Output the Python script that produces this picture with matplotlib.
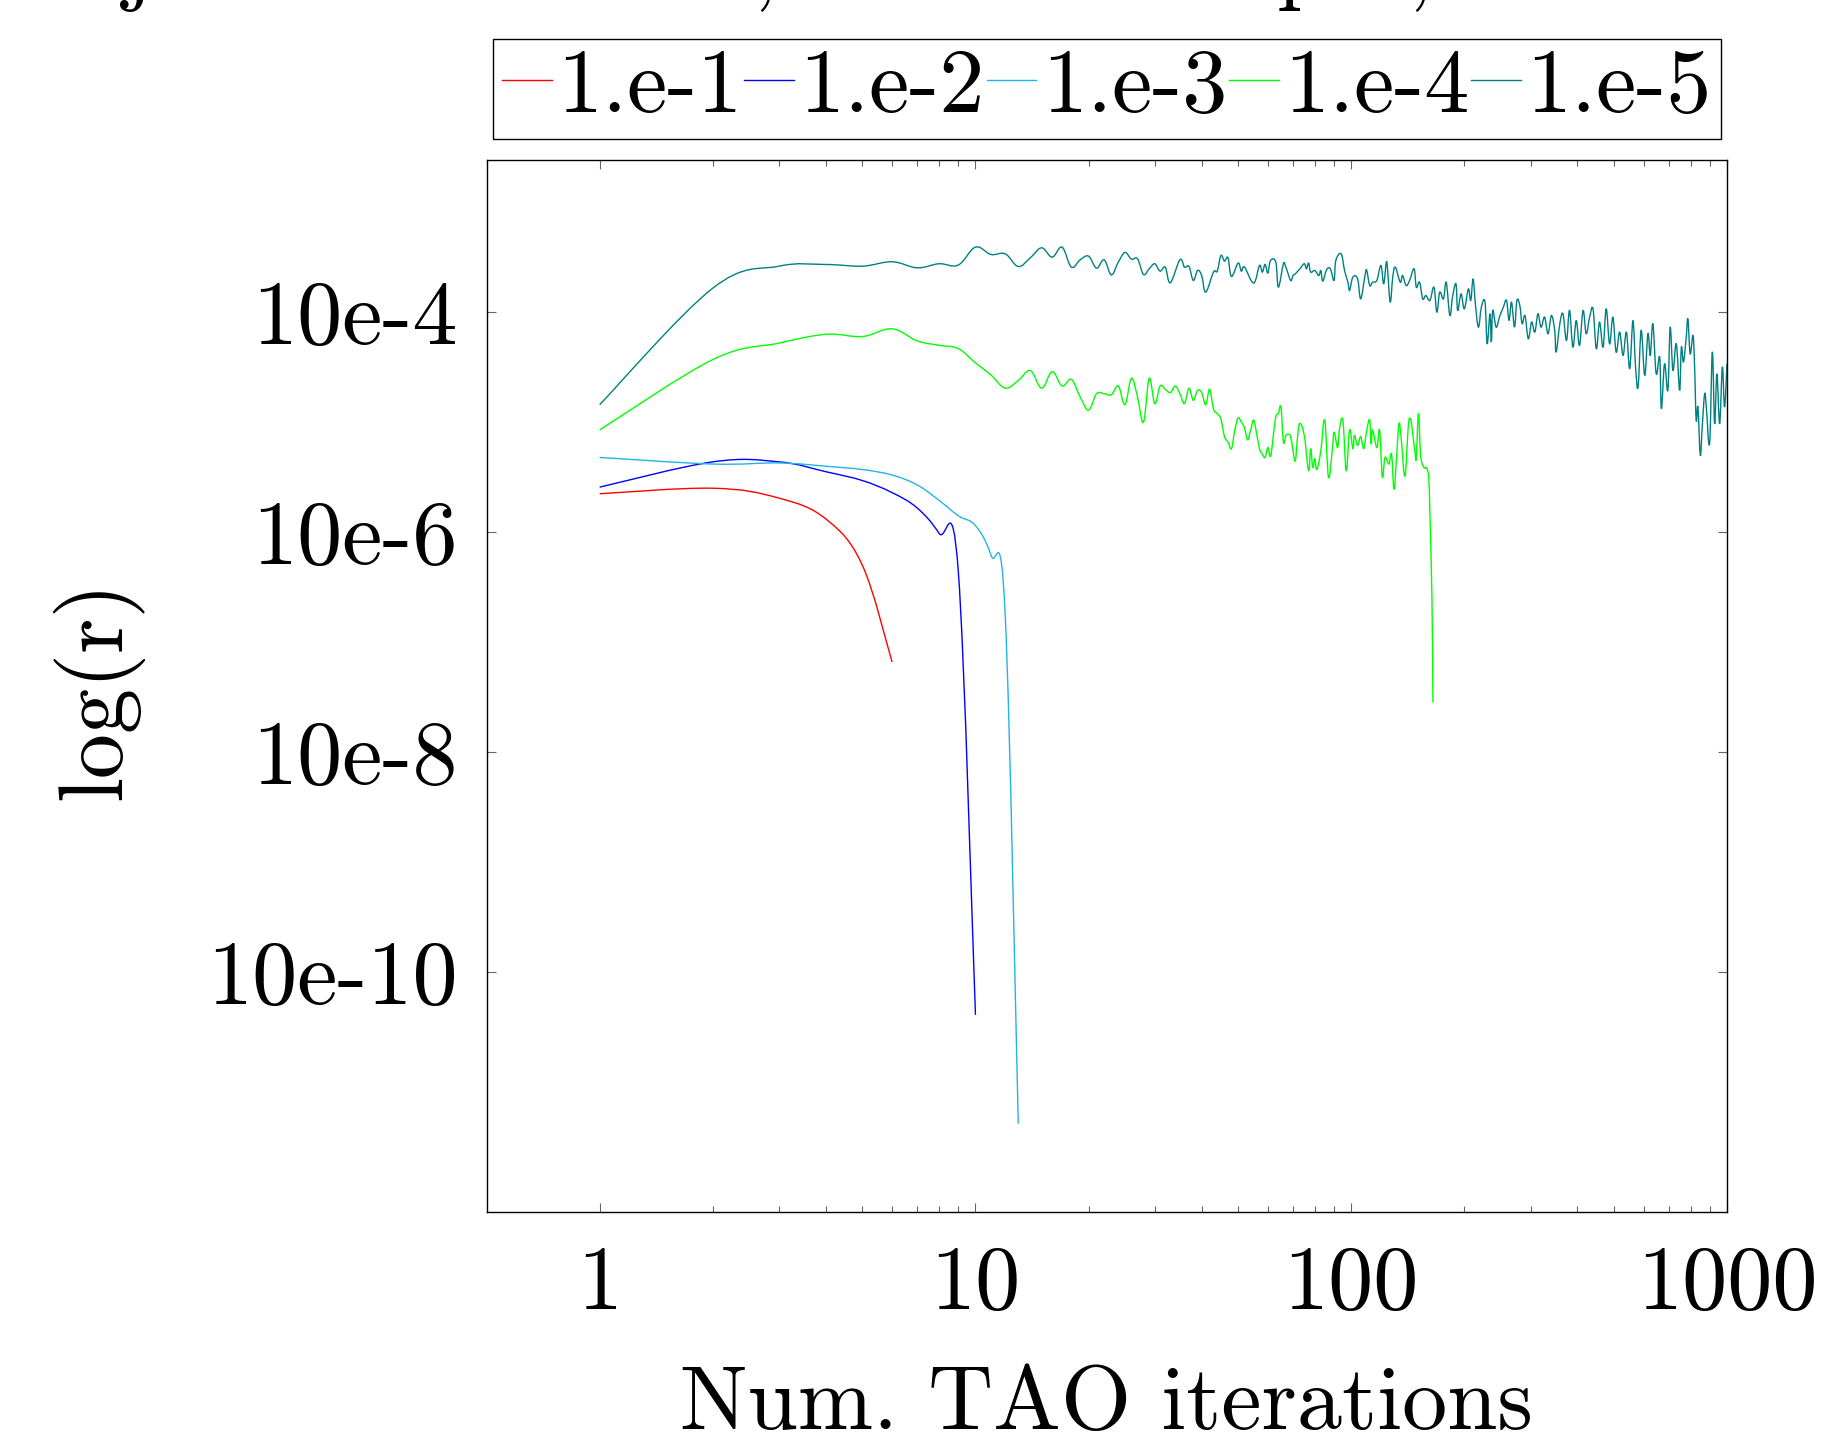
import numpy as np
import matplotlib
matplotlib.use('Agg')
import matplotlib.pyplot as plt
from matplotlib.path import Path
from matplotlib.patches import PathPatch
from matplotlib.lines import Line2D
from matplotlib.ticker import FixedLocator, NullFormatter, NullLocator

# residual values (log10 of r), per TAO iteration
red_iter = [1, 2, 3, 4, 5, 6]
red_log = [-5.65, -5.60, -5.69, -5.88, -6.30, -7.18]

blue_iter = [1, 2, 3, 4, 5, 6, 7, 8, 9, 10]
blue_log = [-5.59, -5.36, -5.36, -5.45, -5.53, -5.64, -5.78, -6.01, -6.35, -10.39]

cyan_iter = [1, 2, 3, 4, 5, 6, 7, 8, 9, 10, 11, 12, 13]
cyan_log = [-5.32, -5.38, -5.37, -5.40, -5.43, -5.48, -5.57, -5.71, -5.85, -5.94,
            -6.21, -6.75, -11.38]

green_iter = [1, 2, 3, 4, 5, 6, 7, 8, 9, 10, 11, 12, 13, 14, 15, 16, 17, 18, 19, 20,
              21, 22, 23, 24, 25, 26, 27, 28, 29, 30, 31, 32, 33, 34, 35, 36, 37, 38, 39, 40,
              41, 42, 43, 44, 45, 46, 47, 48, 49, 50, 51, 52, 53, 54, 55, 56, 57, 58, 59, 60,
              61, 62, 63, 64, 65, 66, 67, 68, 69, 70, 71, 72, 73, 75, 77, 78, 79, 80, 81, 83,
              85, 87, 89, 90, 92, 93, 95, 97, 99, 101, 102, 104, 106, 108, 110, 112, 113, 114,
              117, 119, 121, 123, 126, 128, 130, 132, 134, 136, 139, 142, 144, 146, 148, 149,
              151, 153, 156, 158, 160, 161, 162, 164, 165]
green_log = [-5.07, -4.43, -4.28, -4.20, -4.22, -4.15, -4.26, -4.30, -4.33, -4.46,
             -4.57, -4.69, -4.62, -4.53, -4.69, -4.54, -4.67, -4.61, -4.77, -4.89,
             -4.74, -4.74, -4.75, -4.67, -4.84, -4.60, -4.77, -5.00, -4.60, -4.83,
             -4.67, -4.70, -4.73, -4.67, -4.74, -4.83, -4.69, -4.80, -4.71, -4.73,
             -4.84, -4.70, -4.88, -4.92, -4.97, -5.13, -5.18, -5.24, -5.07, -4.96,
             -5.00, -5.05, -5.16, -5.07, -4.98, -5.10, -5.24, -5.29, -5.32, -5.23,
             -5.31, -5.13, -4.95, -4.92, -4.86, -5.18, -5.12, -5.11, -5.13, -5.26,
             -5.35, -5.13, -5.01, -5.12, -5.44, -5.24, -5.41, -5.33, -5.43, -5.26,
             -4.98, -5.50, -5.26, -5.09, -5.23, -5.07, -4.98, -5.44, -5.07, -5.24,
             -5.12, -5.21, -5.13, -5.24, -5.07, -4.98, -5.20, -5.07,
             -5.23, -5.07, -5.50, -5.32, -5.38, -5.29, -5.61, -5.32, -5.01, -5.17,
             -5.49, -5.02, -4.98, -5.12, -5.29, -5.32,
             -4.92, -5.30, -5.41, -5.41, -5.45, -5.53, -5.85, -6.60, -7.55]

teal_iter = [1, 2, 3, 4, 5, 6, 7, 8, 9, 10, 11, 12, 13, 14, 15, 16, 17, 18, 19, 20,
             21, 22, 23, 24, 25, 26, 27, 28, 29, 30, 31, 32, 33, 35, 36, 37, 38, 39, 40, 41,
             43, 44, 45, 46, 47, 48, 50, 51, 52, 55, 57, 58, 59, 60, 61, 63, 64, 66, 67, 69,
             70, 71, 73, 75, 76, 77, 78, 80, 82, 83, 84, 86, 88, 90, 91, 94, 96, 98, 99, 101,
             104, 106, 109, 110, 112, 114, 117, 120, 122, 124, 125, 127, 129, 131, 135, 137,
             140, 143, 147, 149, 152, 155, 158, 162, 166, 169, 172, 176, 179, 183, 186, 190,
             192, 196, 200, 205, 208, 211, 214, 218, 222, 227, 230, 234, 236, 238, 243, 248,
             254, 259, 263, 267, 272, 276, 281, 285, 290, 296, 302, 308, 314, 320, 327, 334,
             341, 348, 351, 359, 366, 374, 381, 389, 397, 405, 414, 422, 431, 440, 449, 458,
             468, 477, 487, 497, 507, 518, 529, 540, 551, 562, 571, 580, 591, 604, 616, 625,
             635, 648, 662, 669, 682, 696, 706, 718, 733, 748, 756, 766, 779, 787, 798, 812,
             820, 828, 837, 849, 859, 872, 881, 899, 914, 927, 940, 956, 972, 985, 1000]
teal_log = [-4.84, -3.78, -3.58, -3.565, -3.58, -3.54, -3.595, -3.558, -3.57, -3.407,
            -3.474, -3.468, -3.583, -3.504, -3.413, -3.498, -3.407, -3.589, -3.522, -3.489,
            -3.598, -3.522, -3.659, -3.543, -3.455, -3.516, -3.513, -3.656, -3.604, -3.558,
            -3.625, -3.589, -3.731, -3.522, -3.589, -3.583, -3.710, -3.619, -3.665, -3.816,
            -3.634, -3.625, -3.483, -3.534, -3.504, -3.674, -3.552, -3.625, -3.589, -3.734,
            -3.574, -3.634, -3.564, -3.643, -3.528, -3.543, -3.771, -3.558, -3.589, -3.710,
            -3.665, -3.650, -3.604, -3.558, -3.604, -3.552, -3.634, -3.619, -3.665, -3.619,
            -3.716, -3.613, -3.604, -3.710, -3.529, -3.468, -3.620, -3.726, -3.801, -3.680,
            -3.695, -3.877, -3.650, -3.620, -3.756, -3.726, -3.710, -3.574, -3.741, -3.544,
            -3.620, -3.907, -3.680, -3.589, -3.726, -3.665,
            -3.756, -3.710, -3.604, -3.771, -3.726, -3.877, -3.847, -3.892, -3.771, -3.998,
            -3.817, -3.877, -3.726, -4.029, -3.862, -3.741,
            -3.983, -3.832, -3.968, -3.786, -3.892, -3.695, -3.923, -4.135, -3.953, -3.907,
            -4.286, -4.013, -4.271, -3.983, -4.135, -4.044,
            -3.953, -3.892, -4.074, -3.907, -4.135, -3.892, -3.938, -4.104, -4.029, -4.241,
            -4.089, -4.180, -4.013, -4.135, -4.044, -4.195,
            -4.029, -4.165, -4.362, -4.104, -4.013, -4.256, -3.983, -4.317, -4.074, -4.301,
            -3.983, -4.195, -4.044, -3.968, -4.332, -4.089,
            -4.317, -3.968, -4.286, -4.044, -4.362, -4.180, -4.392, -4.180, -4.513, -4.074,
            -4.498, -4.680, -4.165, -4.574, -4.195, -4.392,
            -4.104, -4.559, -4.407, -4.877, -4.468, -4.710, -4.135, -4.529, -4.286, -4.710,
            -4.317, -4.453, -4.225, -4.059, -4.377, -4.210,
            -4.498, -4.983, -4.862, -5.301, -5.044, -4.741, -4.862, -5.195, -4.362, -5.013,
            -4.559, -5.013, -4.498, -4.862, -4.468]

labels = ['1.e-1', '1.e-2', '1.e-3', '1.e-4', '1.e-5']
colors = ['#ff0000', '#0000ff', '#22b4e6', '#00ff00', '#008080']
ytick_vals = [1e-4, 1e-6, 1e-8, 1e-10]
ytick_labels = ['10e-4', '10e-6', '10e-8', '10e-10']
xtick_vals = [1, 10, 100, 1000]
xtick_labels = ['1', '10', '100', '1000']
xminor_vals = [m * 10 ** e for e in range(3) for m in range(2, 10)]

plt.rcParams['font.family'] = 'cmr10'
plt.rcParams['mathtext.fontset'] = 'cm'
plt.rcParams['axes.unicode_minus'] = False
fs = 65


def smooth_path(xs, ys_log, k=0.18):
    # bezier through the points in log-log space, like pgfplots "smooth"
    pts = np.column_stack([np.log10(xs), ys_log])
    n = len(pts)
    verts = [pts[0]]
    codes = [Path.MOVETO]
    for i in range(n - 1):
        prev = pts[i - 1] if i > 0 else pts[i]
        nxt = pts[i + 2] if i + 2 < n else pts[i + 1]
        c1 = pts[i] + (pts[i + 1] - prev) * k
        c2 = pts[i + 1] - (nxt - pts[i]) * k
        verts += [c1, c2, pts[i + 1]]
        codes += [Path.CURVE4] * 3
    return Path(10.0 ** np.array(verts), codes)


fig = plt.figure(figsize=(18.25, 14.41), dpi=100)
ax = fig.add_axes([0.2666, 0.1592, 0.6797, 0.7301])

series = [(red_iter, red_log), (blue_iter, blue_log), (cyan_iter, cyan_log),
          (green_iter, green_log), (teal_iter, teal_log)]
handles = []
for (it, lg), c, lab in zip(series, colors, labels):
    ax.add_patch(PathPatch(smooth_path(it, lg), fill=False, edgecolor=c, lw=1.0))
    handles.append(Line2D([], [], color=c, lw=1.0, label=lab))

ax.set_xscale('log')
ax.set_yscale('log')
ax.set_xlim(0.5, 1000)
ax.set_ylim(10 ** -12.18, 10 ** -2.61)
ax.set_xticks(xtick_vals)
ax.set_xticklabels(xtick_labels)
ax.xaxis.set_minor_locator(FixedLocator(xminor_vals))
ax.xaxis.set_minor_formatter(NullFormatter())
ax.set_yticks(ytick_vals)
ax.set_yticklabels(ytick_labels)
ax.yaxis.set_minor_locator(NullLocator())
ax.tick_params(which='both', direction='in', top=True, right=True, color='0.4', width=0.8)
ax.tick_params(which='major', length=6.5, labelsize=fs)
ax.tick_params(which='minor', length=4.5)
ax.tick_params(axis='x', pad=24)
ax.tick_params(axis='y', pad=21)
for sp in ax.spines.values():
    sp.set_linewidth(1.0)

fig.text(1107 / 1825, 1 - 1429 / 1441, 'Num. TAO iterations', fontsize=fs,
         ha='center', va='baseline')
fig.text(97 / 1825, 1 - 690 / 1441, 'log(r)', fontsize=fs, rotation=90,
         ha='center', va='center')

# title sits above the canvas, only its descenders show
for ch, xp in [('j', 138), (',', 764), ('p', 1302), (',', 1419)]:
    fig.text(xp / 1825, 1 + 7 / 1441, ch, fontsize=fs, ha='center', va='baseline')

leg = fig.legend(handles=handles, loc='upper center',
                 bbox_to_anchor=(1107 / 1825, 1 - 39 / 1441), borderaxespad=0,
                 ncol=5, fontsize=fs, handlelength=0.55, handletextpad=0.06,
                 columnspacing=0.02, borderpad=0.1, fancybox=False,
                 edgecolor='black', framealpha=1)
leg.get_frame().set_linewidth(1.0)

fig.savefig('out.png', dpi=100)
